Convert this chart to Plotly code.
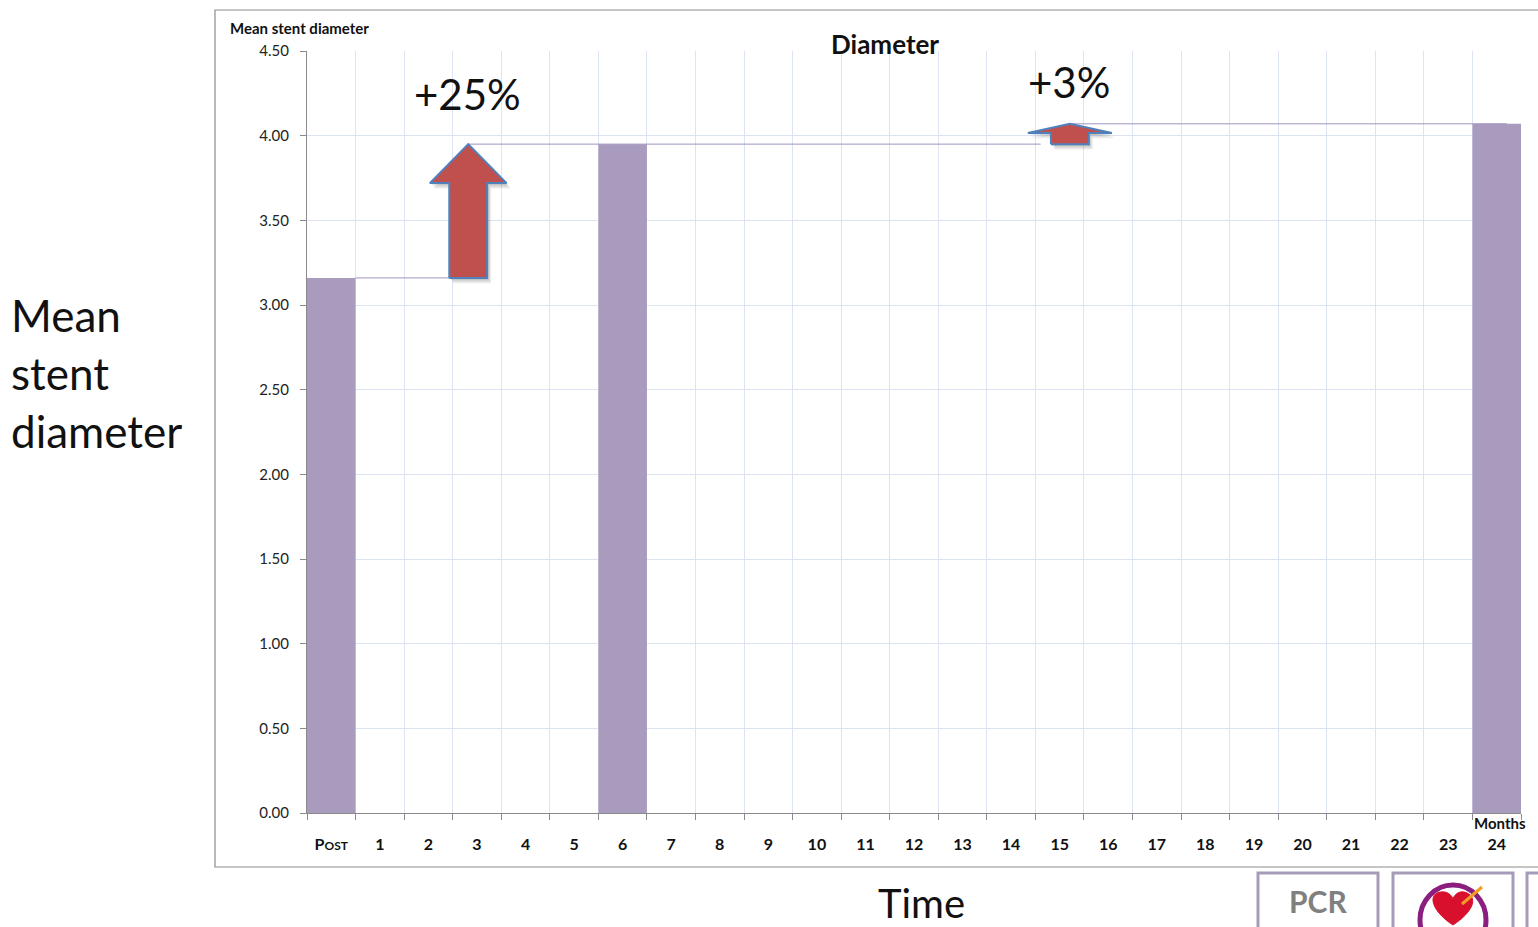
import plotly.graph_objects as go

# Time points (months) and mean stent diameter (mm)
categories = ["Post"] + [str(m) for m in range(1, 25)]
tick_labels = ["<b>P<span style='font-size:12px'>OST</span></b>"] + [f"<b>{m}</b>" for m in range(1, 25)]
bar_months = ["Post", "6", "24"]
bar_values = [3.16, 3.95, 4.07]
change_labels = ["+25%", "+3%"]

W, H = 1538, 927
x0_px, x1_px = 307, 1521
y0_px, y1_px = 813, 51

FONT = "Lato, 'Open Sans', sans-serif"
BAR_COLOR = "#A99BBE"
LINE_COLOR = "#A293C2"
ARROW_FILL = "#C0504D"
ARROW_EDGE = "#4F81BD"
GRID = "#DCE4F4"

xpos = [categories.index(c) for c in bar_months]

fig = go.Figure()

# connector lines between successive bar tops
v_post, v_6, v_24 = bar_values
arrow1_x = 2.82
arrow2_x = 15.21
fig.add_trace(go.Scatter(x=[xpos[0] + 0.5, arrow1_x + 0.39], y=[v_post, v_post], mode="lines",
                         line=dict(color=LINE_COLOR, width=1), hoverinfo="skip", showlegend=False))
fig.add_trace(go.Scatter(x=[arrow1_x, arrow2_x - 0.6], y=[v_6, v_6], mode="lines",
                         line=dict(color=LINE_COLOR, width=1), hoverinfo="skip", showlegend=False))
fig.add_trace(go.Scatter(x=[arrow2_x, xpos[2] + 0.21], y=[v_24, v_24], mode="lines",
                         line=dict(color=LINE_COLOR, width=1), hoverinfo="skip", showlegend=False))

# bars
fig.add_trace(go.Bar(x=xpos, y=bar_values, width=1.0, marker=dict(color=BAR_COLOR, line=dict(width=0)),
                     hoverinfo="skip", showlegend=False))


def arrow(cx, y_from, y_to, shaft_hw, head_hw, head_base):
    xs = [cx - shaft_hw, cx - shaft_hw, cx - head_hw, cx, cx + head_hw, cx + shaft_hw, cx + shaft_hw, cx - shaft_hw]
    ys = [y_from, head_base, head_base, y_to, head_base, head_base, y_from, y_from]
    return xs, ys


for cx, yf, yt, shw, hhw, hb in [
    (arrow1_x, v_post, v_6, 0.39, 0.79, 3.72),
    (arrow2_x, v_6, v_24, 0.39, 0.865, 4.016),
]:
    xs, ys = arrow(cx, yf, yt, shw, hhw, hb)
    # soft drop shadow
    for k, a in [(0.09, 0.10), (0.06, 0.12), (0.03, 0.15)]:
        fig.add_trace(go.Scatter(x=[v + k * 0.9 for v in xs], y=[v - k * 0.35 for v in ys],
                                 fill="toself", mode="lines", line=dict(width=0),
                                 fillcolor=f"rgba(60,60,60,{a})", hoverinfo="skip", showlegend=False))
    fig.add_trace(go.Scatter(x=xs, y=ys, fill="toself", mode="lines",
                             line=dict(color=ARROW_EDGE, width=2), fillcolor=ARROW_FILL,
                             hoverinfo="skip", showlegend=False))

fig.update_layout(
    width=W, height=H,
    margin=dict(l=0, r=0, t=0, b=0, autoexpand=False),
    paper_bgcolor="white", plot_bgcolor="white",
    font=dict(family=FONT, color="#1a1a1a"),
    xaxis=dict(
        domain=[x0_px / W, x1_px / W],
        range=[-0.5, 24.5],
        tickmode="array", tickvals=list(range(25)), ticktext=tick_labels,
        tickfont=dict(size=16, family=FONT, color="#111"),
        ticks="", showgrid=False, zeroline=False,
        showline=True, linecolor="#8a8a8a", linewidth=1,
        ticklabelstandoff=17,
        minor=dict(tickmode="array", tickvals=[i - 0.5 for i in range(26)],
                   ticks="outside", ticklen=6, tickcolor="#8a8a8a",
                   showgrid=True, gridcolor=GRID, gridwidth=1),
        automargin=False,
        fixedrange=True,
    ),
    yaxis=dict(
        domain=[(H - y0_px) / H, (H - y1_px) / H],
        range=[0, 4.5], dtick=0.5, tickformat=".2f",
        tickfont=dict(size=15, family=FONT, color="#222"),
        ticks="outside", ticklen=6, tickcolor="#8a8a8a",
        showgrid=True, gridcolor=GRID, gridwidth=1, zeroline=False,
        showline=True, linecolor="#8a8a8a", linewidth=1,
        ticklabelstandoff=8,
        automargin=False,
        fixedrange=True,
    ),
)

# chart frame
fig.add_shape(type="rect", xref="paper", yref="paper",
              x0=215 / W, x1=1.02, y0=(H - 867) / H, y1=(H - 10) / H,
              line=dict(color="#8c8c8c", width=1.2), fillcolor="rgba(0,0,0,0)", layer="below")


def px_annot(text, x, y, size, bold=False, xanchor="center", yanchor="middle", color="#111", font=FONT):
    fig.add_annotation(text=f"<b>{text}</b>" if bold else text, xref="paper", yref="paper",
                       x=x / W, y=1 - y / H, xanchor=xanchor, yanchor=yanchor, showarrow=False,
                       font=dict(size=size, color=color, family=font))


px_annot("Diameter", 885, 44, 26, bold=True)
px_annot("Mean stent diameter", 228, 28, 15, bold=True, xanchor="left")
px_annot("Months", 1500, 823, 15, bold=True)
px_annot(change_labels[0], 467, 94, 42)
px_annot(change_labels[1], 1069, 82, 42)
px_annot("Time", 921, 903, 40)
for i, word in enumerate(["Mean", "stent", "diameter"]):
    px_annot(word, 9, 315 + 58 * i, 44, xanchor="left")


def pp(x, y):
    return f"{x / W:.5f},{1 - y / H:.5f}"


# logo tiles along the bottom edge
for lx0, lx1 in [(1258, 1378), (1393, 1513), (1527, 1560)]:
    fig.add_shape(type="rect", xref="paper", yref="paper",
                  x0=lx0 / W, x1=lx1 / W, y0=-0.05, y1=1 - 873 / H,
                  line=dict(color="#A79BBA", width=3), fillcolor="white")
px_annot("PCR", 1318, 901, 30, bold=True, color="#808080")

# ring and heart emblem
fig.add_shape(type="circle", xref="paper", yref="paper",
              x0=1420 / W, x1=1486 / W, y0=1 - 955 / H, y1=1 - 885 / H,
              line=dict(color="#8B1F80", width=5))
heart = ("M " + pp(1453, 925) + " C " + pp(1430, 910) + " " + pp(1428, 893) + " " + pp(1441, 892)
         + " C " + pp(1448, 891) + " " + pp(1452, 896) + " " + pp(1453, 899)
         + " C " + pp(1455, 893) + " " + pp(1461, 890) + " " + pp(1467, 893)
         + " C " + pp(1478, 898) + " " + pp(1473, 912) + " " + pp(1453, 925) + " Z")
fig.add_shape(type="path", xref="paper", yref="paper", path=heart,
              fillcolor="#D8102E", line=dict(color="#D8102E", width=1))
fig.add_shape(type="line", xref="paper", yref="paper",
              x0=1462 / W, x1=1482 / W, y0=1 - 904 / H, y1=1 - 887 / H,
              line=dict(color="#F39C1E", width=3))

fig.write_html("out.html")
